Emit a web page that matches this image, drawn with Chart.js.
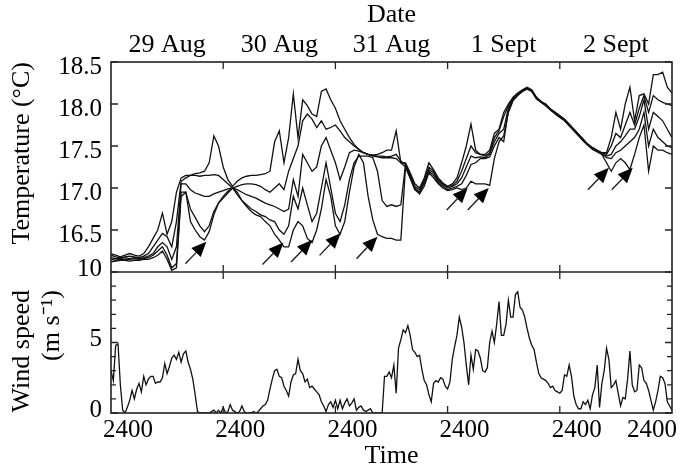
<!DOCTYPE html>
<html>
<head>
<meta charset="utf-8">
<script src="https://cdn.jsdelivr.net/npm/chart.js@4"></script>
<style>
  html, body { margin: 0; padding: 0; background: #fff; }
  canvas { display: block; }
</style>
</head>
<body>
<canvas id="chart" width="686" height="469"></canvas>
<script>
// Temperature records, one value per hour from 2400 on 28 Aug (hour 0) to 2400 on 2 Sept (hour 120)
const tempStep = 1;
const temp1 = [
  16.22, 16.2, 16.18, 16.2, 16.22, 16.2, 16.19, 16.22,
  16.3, 16.4, 16.5, 16.7, 16.45, 16.6, 16.95,
  17.12, 17.15, 17.15, 17.17, 17.18, 17.2, 17.3, 17.62, 17.5, 17.25, 17.1, 17.02,
  17.08, 17.12, 17.14, 17.15, 17.15, 17.16, 17.17, 17.2, 17.55, 17.68, 17.3, 17.6, 18.12, 17.6, 18.05, 17.98, 17.88, 17.85, 18.15, 18.18, 18.05,
  17.95, 17.8, 17.7, 17.6, 17.52, 17.46, 17.42, 17.4, 17.39, 17.4, 17.42, 17.45, 17.45, 17.68, 17.3, 17.3, 17.18, 17.05, 17.0, 17.12, 17.3, 17.22, 17.12, 17.06, 17.02,
  17.05, 17.12, 17.3, 17.5, 17.76, 17.45, 17.4, 17.4, 17.45, 17.65, 17.7, 17.9, 18.0, 18.08, 18.13, 18.17, 18.2, 18.17, 18.08, 18.03, 18.0, 17.94, 17.9, 17.86,
  17.82, 17.76, 17.7, 17.64, 17.58, 17.52, 17.48, 17.45, 17.42,
  17.42, 17.6, 17.9, 17.7, 18.0, 18.2, 17.8, 18.1, 18.12, 18.0, 18.35, 18.35, 18.38, 18.2, 18.13
];
const temp2 = [
  16.2, 16.18, 16.17, 16.18, 16.19, 16.18, 16.17, 16.19,
  16.22, 16.3, 16.38, 16.46, 16.42, 16.3, 16.6,
  17.08, 17.12, 17.15, 17.15, 17.14, 17.15, 17.15, 17.16, 17.15, 17.1, 17.05, 17.0,
  17.02, 17.04, 17.05, 17.05, 17.04, 17.02, 16.98, 16.95, 17.0, 17.05, 16.98, 17.2, 17.35, 17.5, 17.8, 17.88, 17.82, 17.72, 17.8, 17.7, 17.72,
  17.75, 17.68, 17.6, 17.55, 17.5, 17.46, 17.42, 17.4, 17.39, 17.38, 17.38, 17.37, 17.38, 17.4, 17.32, 17.28, 17.15, 17.02, 16.98, 17.1, 17.25, 17.2, 17.1, 17.05, 17.02,
  17.03, 17.08, 17.2, 17.35, 17.5, 17.42, 17.4, 17.38, 17.42, 17.6, 17.68, 17.85, 17.98, 18.07, 18.12, 18.16, 18.19, 18.16, 18.08, 18.03, 17.99, 17.94, 17.9, 17.86,
  17.82, 17.76, 17.7, 17.64, 17.58, 17.52, 17.48, 17.45, 17.42,
  17.4, 17.5, 17.65, 17.6, 17.75, 17.9, 17.75, 17.95, 18.1, 17.9, 18.1, 18.05, 18.02, 18.0, 17.98
];
const temp3 = [
  16.17, 16.16, 16.16, 16.17, 16.16, 16.17, 16.16, 16.17,
  16.19, 16.22, 16.3, 16.35, 16.3, 16.15, 16.3,
  17.05, 17.05, 16.98, 16.94, 16.92, 16.9, 16.9, 16.93, 16.95, 16.97, 16.99, 17.0,
  16.98, 16.95, 16.92, 16.9, 16.88, 16.85, 16.82, 16.8, 16.78, 16.75, 16.72, 16.75, 17.1, 16.9, 17.4, 17.3, 17.2, 17.25, 17.5, 17.6, 17.45,
  17.3, 17.1, 17.25, 17.42, 17.45, 17.44, 17.42, 17.4, 17.38, 17.37, 17.36, 17.36, 17.36, 17.35, 17.3, 17.25, 17.12, 16.98, 16.95, 17.08, 17.22, 17.18, 17.08, 17.04, 17.0,
  17.02, 17.05, 17.12, 17.25, 17.38, 17.36, 17.37, 17.36, 17.4, 17.55, 17.65, 17.7, 17.95, 18.06, 18.12, 18.16, 18.19, 18.16, 18.07, 18.02, 17.99, 17.93, 17.89, 17.85,
  17.81, 17.75, 17.69, 17.63, 17.57, 17.52, 17.47, 17.44, 17.41,
  17.38, 17.4, 17.5, 17.55, 17.62, 17.7, 17.7, 17.85, 18.05, 17.7, 17.9, 17.85, 17.8, 17.7, 17.6
];
const temp4 = [
  16.15, 16.14, 16.15, 16.15, 16.15, 16.16, 16.15, 16.16,
  16.17, 16.2, 16.25, 16.3, 16.2, 16.05, 16.1,
  16.95, 16.95, 16.75, 16.65, 16.55, 16.48, 16.55, 16.72, 16.82, 16.88, 16.94, 17.0,
  16.92, 16.85, 16.8, 16.75, 16.72, 16.68, 16.66, 16.62, 16.6, 16.5, 16.45, 16.55, 16.9, 16.75, 17.0, 16.8, 16.6, 16.7, 17.0, 17.3, 17.0,
  16.7, 16.6, 16.8, 17.1, 17.3, 17.38, 17.38, 17.38, 17.36, 17.2, 16.85, 16.78, 16.8, 16.78, 16.8, 17.28, 17.15, 17.0, 16.95, 17.05, 17.2, 17.15, 17.06, 17.02, 16.98,
  17.0, 17.02, 17.05, 17.15, 17.28, 17.3, 17.35, 17.35, 17.37, 17.5, 17.6, 17.55, 17.92, 18.05, 18.11, 18.15, 18.18, 18.15, 18.07, 18.02, 17.98, 17.93, 17.89, 17.85,
  17.81, 17.75, 17.69, 17.63, 17.57, 17.51, 17.47, 17.44, 17.41,
  17.36, 17.35, 17.42, 17.45, 17.5, 17.55, 17.6, 17.7, 17.9, 17.5, 17.7, 17.6, 17.55, 17.5, 17.48
];
const temp5 = [
  16.12, 16.13, 16.14, 16.14, 16.13, 16.14, 16.14, 16.15,
  16.15, 16.17, 16.2, 16.25, 16.15, 16.02, 16.05,
  16.9, 16.95, 16.6, 16.5, 16.42, 16.38, 16.48, 16.68, 16.82, 16.9, 16.96, 17.0,
  16.95, 16.85, 16.78, 16.72, 16.68, 16.66, 16.6, 16.55, 16.45, 16.38, 16.3, 16.3, 16.5, 16.6, 16.55, 16.4, 16.35, 16.5, 16.75, 17.1, 16.9,
  16.55, 16.45, 16.6, 16.95, 17.25, 17.4, 17.3, 16.9, 16.62, 16.45, 16.42, 16.4, 16.4, 16.38, 16.38, 17.25, 17.12, 16.98, 16.93, 17.02, 17.18, 17.12, 17.05, 17.0, 16.97,
  16.98, 17.0, 16.98, 17.0, 17.08, 17.05, 17.05, 17.05, 17.03, 17.35, 17.55, 17.62, 17.9, 18.04, 18.1, 18.15, 18.18, 18.15, 18.06, 18.02, 17.98, 17.93, 17.88, 17.84,
  17.8, 17.74, 17.68, 17.62, 17.56, 17.51, 17.46, 17.43, 17.4,
  17.3, 17.2, 17.3, 17.35, 17.3, 17.22, 17.4, 17.6, 17.75, 17.2, 17.5, 17.45, 17.45, 17.42, 17.4
];

// Wind speed, one value every half hour (m/s)
const windStep = 0.5;
const windSpeed = [
  3.0, 2.3, 4.8, 4.9, 2.0, 0.2, 0, 0.4, 0.9, 1.6, 1.0, 1.7, 2.1, 1.5, 2.6, 2.0, 2.4, 2.6, 2.6, 2.1, 2.2, 2.2, 2.5, 3.5,
  2.8, 3.3, 3.9, 4.1, 3.8, 4.3, 3.6, 4.2, 4.4, 3.6, 3.1, 2.4, 1.3, 0.1, 0, 0, 0, 0, 0, 0.1, 0.2, 0, 0.2, 0,
  0.4, 0, 0.1, 0.6, 0.2, 0.1, 0, 0.1, 0.5, 0.1, 0, 0, 0, 0.1, 0, 0.1, 0.3, 0.5, 0.6, 0.9, 1.7, 2.4, 3.0, 3.1,
  2.6, 2.5, 1.9, 1.6, 1.2, 2.2, 2.7, 2.8, 3.8, 3.0, 2.8, 2.2, 2.4, 1.8, 1.9, 1.7, 1.5, 1.3, 0.8, 0.5, 0.1, 0.6, 0.8, 0.4,
  0.9, 0.3, 0.9, 0.3, 0.7, 1.0, 0.5, 0.7, 1.0, 0.2, 0.4, 0.5, 0.2, 0.1, 0.2, 0.3, 0, 0, 0, 0, 0, 2.6, 2.6, 2.9,
  2.5, 3.4, 1.4, 4.6, 5.2, 5.9, 5.7, 6.2, 5.5, 4.5, 4.3, 4.0, 4.1, 3.1, 2.3, 2.0, 1.3, 0.8, 2.1, 2.3, 2.2, 2.5, 2.4, 1.9,
  1.7, 2.2, 3.8, 4.7, 5.5, 6.8, 6.1, 5.0, 3.4, 2.0, 4.1, 3.1, 4.5, 4.4, 3.9, 3.0, 2.9, 3.2, 5.0, 5.8, 5.0, 6.3, 7.9, 5.5,
  5.5, 6.3, 8.0, 6.8, 6.8, 8.4, 8.6, 7.5, 7.3, 6.8, 6.0, 5.3, 4.8, 4.5, 3.6, 2.8, 2.5, 2.4, 2.3, 2.1, 1.8, 1.9, 1.6, 1.5,
  1.4, 1.6, 2.7, 2.6, 3.4, 2.6, 1.2, 0.6, 0.3, 0.3, 0.8, 0.6, 0.9, 0.3, 1.3, 1.8, 3.4, 0.4, 2.1, 3.0, 4.6, 3.8, 1.8, 2.0,
  2.3, 1.4, 0.5, 1.1, 1.0, 2.4, 4.4, 2.0, 1.5, 1.6, 3.4, 3.2, 2.3, 2.1, 1.6, 0.9, 0.2, 0.8, 1.6, 2.6, 2.5, 2.1, 0.8, 0.5,
  0.2
];

// Axis ticks and labels
const dateHours = [12, 36, 60, 84, 108];
const dateLabels = ['29 Aug', '30 Aug', '31 Aug', '1 Sept', '2 Sept'];
const timeHours = [0, 24, 48, 72, 96, 120];
const timeLabels = ['2400', '2400', '2400', '2400', '2400', '2400'];
const dayTicks = [24, 48, 72, 96];
const tempTicks = [16.5, 17.0, 17.5, 18.0, 18.5];
const windTicks = [0, 5, 10];
const windMinorTicks = [1, 2, 3, 4, 6, 7, 8, 9];
const windTitle = ['Wind speed', '(m s\u207B\u00B9)'];

// Arrows marking the cold events: [hour, temperature at the tip]
const arrowTips = [
  [20.4, 16.36], [36.9, 16.35], [43.0, 16.38], [49.1, 16.46], [57.0, 16.42],
  [76.3, 17.0], [80.8, 17.0], [106.5, 17.24], [111.6, 17.24]
];

const toPoints = (values, step) => values.map((v, i) => ({ x: i * step, y: v }));

const serif = "'Liberation Serif', 'Times New Roman', serif";
Chart.defaults.font.family = serif;
Chart.defaults.font.size = 25;
Chart.defaults.color = '#000';
const titleFont = { size: 26 };

function lineSet(values, step, axis) {
    return {
        data: toPoints(values, step),
        yAxisID: axis,
        xAxisID: 'x',
        borderColor: '#111',
        borderWidth: 1.3,
        pointRadius: 0,
        tension: 0,
        fill: false
    };
}

// fixes a scale box to a given size so the plot area lands where it should
function fixSize(prop, size) {
    return function(scale) {
        scale[prop] = size;
        scale.paddingLeft = 0;
        scale.paddingRight = 0;
        scale.paddingTop = 0;
        scale.paddingBottom = 0;
    };
}

function setTicks(values) {
    return function(scale) {
        scale.ticks = values.map(v => ({ value: v }));
    };
}

// frame, inward tick marks, bottom time labels, wind title and arrows
const decor = {
    id: 'decor',
    afterDatasetsDraw(chart) {
        const { ctx, chartArea: a, scales } = chart;
        const x = scales.x, yT = scales.yT, yW = scales.yW;
        const mid = yW.top;
        ctx.save();
        ctx.strokeStyle = '#222';
        ctx.lineWidth = 1.6;
        ctx.strokeRect(a.left, a.top, a.right - a.left, a.bottom - a.top);
        ctx.beginPath();
        ctx.moveTo(a.left, mid);
        ctx.lineTo(a.right, mid);
        ctx.stroke();

        ctx.lineWidth = 1.3;
        ctx.beginPath();
        tempTicks.forEach(v => {
            const py = yT.getPixelForValue(v);
            ctx.moveTo(a.left, py); ctx.lineTo(a.left + 7, py);
            ctx.moveTo(a.right, py); ctx.lineTo(a.right - 7, py);
        });
        windTicks.concat(windMinorTicks).forEach(v => {
            const py = yW.getPixelForValue(v);
            const len = windTicks.includes(v) ? 7 : 5;
            ctx.moveTo(a.left, py); ctx.lineTo(a.left + len, py);
            ctx.moveTo(a.right, py); ctx.lineTo(a.right - len, py);
        });
        dayTicks.forEach(h => {
            const px = x.getPixelForValue(h);
            ctx.moveTo(px, a.top); ctx.lineTo(px, a.top + 7);
            ctx.moveTo(px, mid - 7); ctx.lineTo(px, mid + 7);
            ctx.moveTo(px, a.bottom); ctx.lineTo(px, a.bottom - 7);
        });
        ctx.stroke();

        // time labels under the bottom axis
        ctx.fillStyle = '#000';
        ctx.font = '25px ' + serif;
        ctx.textAlign = 'center';
        ctx.textBaseline = 'middle';
        timeHours.forEach((h, i) => {
            const px = Math.min(x.getPixelForValue(h) + 17, a.right - 20);
            ctx.fillText(timeLabels[i], px, a.bottom + 17);
        });

        // wind axis title, two rotated lines aligned near the top of the panel
        ctx.font = '26px ' + serif;
        ctx.textAlign = 'right';
        windTitle.forEach((line, i) => {
            ctx.save();
            ctx.translate(22 + i * 30, mid + 18);
            ctx.rotate(-Math.PI / 2);
            ctx.fillText(line, 0, 0);
            ctx.restore();
        });

        // arrows
        ctx.lineWidth = 1.4;
        arrowTips.forEach(([h, t]) => {
            const tx = x.getPixelForValue(h);
            const ty = yT.getPixelForValue(t);
            const sx = tx - 21, sy = ty + 22;
            const ang = Math.atan2(ty - sy, tx - sx);
            const hl = 15, hw = 6.5;
            const bx = tx - hl * Math.cos(ang), by = ty - hl * Math.sin(ang);
            ctx.beginPath();
            ctx.moveTo(sx, sy);
            ctx.lineTo(bx, by);
            ctx.stroke();
            ctx.beginPath();
            ctx.moveTo(tx, ty);
            ctx.lineTo(bx + hw * Math.sin(ang), by - hw * Math.cos(ang));
            ctx.lineTo(bx - hw * Math.sin(ang), by + hw * Math.cos(ang));
            ctx.closePath();
            ctx.fill();
        });
        ctx.restore();
    }
};

const ctx = document.getElementById('chart').getContext('2d');
const chart = new Chart(ctx, {
    type: 'line',
    data: {
        datasets: [
            lineSet(temp1, tempStep, 'yT'),
            lineSet(temp2, tempStep, 'yT'),
            lineSet(temp3, tempStep, 'yT'),
            lineSet(temp4, tempStep, 'yT'),
            lineSet(temp5, tempStep, 'yT'),
            lineSet(windSpeed, windStep, 'yW')
        ]
    },
    options: {
        responsive: false,
        animation: false,
        devicePixelRatio: 1,
        layout: { padding: { left: 0, right: 14, top: 0, bottom: 0 } },
        plugins: {
            legend: { display: false },
            tooltip: { enabled: false }
        },
        scales: {
            x: {
                type: 'linear',
                position: 'bottom',
                min: 0,
                max: 120,
                grid: { display: false, drawTicks: false },
                border: { display: false },
                ticks: { display: false },
                title: { display: true, text: 'Time', font: titleFont, padding: { top: 0, bottom: -3 } },
                afterFit: fixSize('height', 56)
            },
            xTop: {
                type: 'linear',
                position: 'top',
                min: 0,
                max: 120,
                grid: { display: false, drawTicks: false },
                border: { display: false },
                afterBuildTicks: setTicks(dateHours),
                ticks: {
                    autoSkip: false,
                    maxRotation: 0,
                    padding: 1,
                    font: titleFont,
                    callback: (v, i) => dateLabels[i]
                },
                title: { display: true, text: 'Date', font: titleFont, padding: { top: 0, bottom: 0 } },
                afterFit: fixSize('height', 62)
            },
            // wind is listed first: stacked left axes are placed last-first from the top
            yW: {
                type: 'linear',
                position: 'left',
                stack: 'panels',
                stackWeight: 141,
                min: 0,
                max: 10,
                grid: { display: false, drawTicks: false },
                border: { display: false },
                afterBuildTicks: setTicks(windTicks),
                ticks: { padding: 9, labelOffset: -3, callback: v => String(v) },
                title: { display: false },
                afterFit: fixSize('width', 111)
            },
            yT: {
                type: 'linear',
                position: 'left',
                stack: 'panels',
                stackWeight: 210,
                min: 16,
                max: 18.5,
                grid: { display: false, drawTicks: false },
                border: { display: false },
                afterBuildTicks: setTicks(tempTicks),
                ticks: { padding: 9, labelOffset: 5, callback: v => v.toFixed(1) },
                title: { display: true, text: 'Temperature (\u00B0C)', font: titleFont, align: 'end', padding: { top: 7, bottom: 0 } },
                afterFit: fixSize('width', 111)
            }
        }
    },
    plugins: [decor]
});
</script>
</body>
</html>
